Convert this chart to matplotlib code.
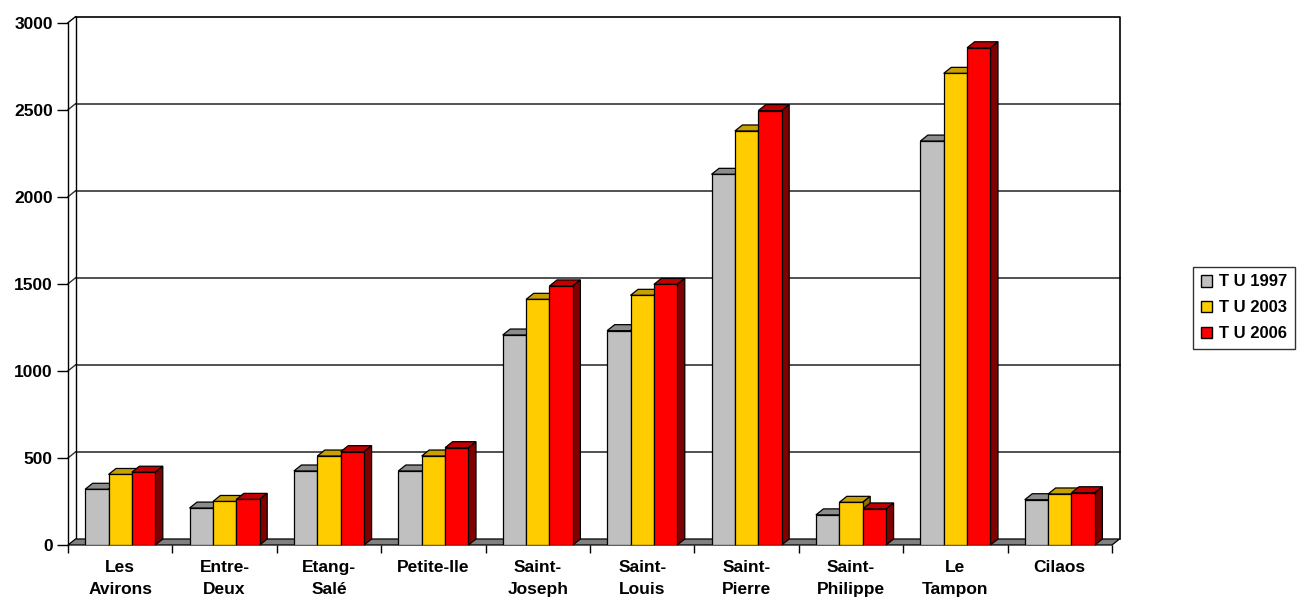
import numpy as np
import matplotlib.pyplot as plt
from matplotlib.patches import Polygon, Patch

communes = ['Les\nAvirons', 'Entre-\nDeux', 'Etang-\nSalé', 'Petite-Ile', 'Saint-\nJoseph',
            'Saint-\nLouis', 'Saint-\nPierre', 'Saint-\nPhilippe', 'Le\nTampon', 'Cilaos']
tu_1997 = [320, 212, 425, 425, 1206, 1231, 2129, 173, 2320, 260]
tu_2003 = [405, 250, 511, 511, 1411, 1434, 2378, 245, 2709, 293]
tu_2006 = [418, 262, 536, 559, 1488, 1497, 2495, 207, 2856, 300]
series = [tu_1997, tu_2003, tu_2006]
names = ['T U 1997', 'T U 2003', 'T U 2006']
yticks = [0, 500, 1000, 1500, 2000, 2500, 3000]

# front / top / side colour of each serie
faces = ['#c0c0c0', '#ffcc00', '#ff0000']
tops = ['#8c8c8c', '#c8a000', '#c00000']
sides = ['#606060', '#8c7000', '#800000']

plt.rcParams['font.family'] = ['Liberation Sans', 'DejaVu Sans']
plt.rcParams['font.weight'] = 'bold'

fig = plt.figure(figsize=(12.98, 6.03), dpi=100)
ax = fig.add_axes([68/1298, 58/603, 1044/1298, 522.3/603])
n = len(communes)
ymax = 3000
dx = 0.072   # depth of the pseudo 3d, category units
dy = 34.5    # depth, value units
ax.set_xlim(0, n)
ax.set_ylim(0, ymax)
lw = 0.9

# back wall grid + left wall diagonals
for v in yticks[1:-1]:
    ax.plot([dx, n + dx], [v + dy, v + dy], color='#333333', lw=1.2, zorder=0.5, clip_on=False)
    ax.plot([0, dx], [v, v + dy], color='#333333', lw=1.0, zorder=0.5, clip_on=False)
# wall borders
ax.plot([dx, n + dx, n + dx], [ymax + dy, ymax + dy, dy], color='black', lw=1.2, zorder=0.6, clip_on=False)
ax.plot([dx, dx], [dy, ymax + dy], color='black', lw=1.0, zorder=0.6, clip_on=False)
ax.plot([0, dx], [ymax, ymax + dy], color='black', lw=1.0, zorder=0.6, clip_on=False)

# floor
ax.add_patch(Polygon([(0, 0), (n, 0), (n + dx, dy), (dx, dy)], closed=True,
                     facecolor='#808080', edgecolor='black', lw=lw, zorder=1, clip_on=False))

w = 0.224
for j, vals in enumerate(series):
    for i, v in enumerate(vals):
        x0 = i + 0.5 + (j - 1) * w - w / 2
        x1 = x0 + w
        ax.add_patch(Polygon([(x0, v), (x1, v), (x1 + dx, v + dy), (x0 + dx, v + dy)],
                             facecolor=tops[j], edgecolor='black', lw=lw, zorder=2, clip_on=False))
        ax.add_patch(Polygon([(x1, 0), (x1, v), (x1 + dx, v + dy), (x1 + dx, dy)],
                             facecolor=sides[j], edgecolor='black', lw=lw, zorder=2, clip_on=False))
    lefts = [i + 0.5 + (j - 1) * w - w / 2 for i in range(n)]
    ax.bar(lefts, vals, width=w, align='edge', color=faces[j], edgecolor='black',
           linewidth=lw, zorder=3)

for s in ['top', 'right']:
    ax.spines[s].set_visible(False)
ax.spines['left'].set_linewidth(1.0)
ax.spines['bottom'].set_visible(False)

ax.set_yticks(yticks)
ax.tick_params(axis='y', direction='out', length=8, width=1, pad=3, labelsize=12.5)
ax.set_xticks(np.arange(n + 1))
ax.set_xticklabels([])
ax.tick_params(axis='x', which='major', direction='out', length=6, width=1)
ax.set_xticks(np.arange(n) + 0.5, minor=True)
ax.set_xticklabels(communes, minor=True, fontsize=12.5, linespacing=1.55)
ax.tick_params(axis='x', which='minor', length=0, pad=11)

handles = [Patch(facecolor=c, edgecolor='black', lw=1) for c in faces]
leg = fig.legend(handles, names, loc='upper left', bbox_to_anchor=(1193/1298, 1 - 267/603),
                 frameon=True, fancybox=False, edgecolor='black', fontsize=12,
                 handlelength=0.7, handleheight=0.7, handletextpad=0.4,
                 labelspacing=0.65, borderpad=0.45, borderaxespad=0)
leg.get_frame().set_linewidth(1.0)

fig.savefig('out.png', dpi=100)
